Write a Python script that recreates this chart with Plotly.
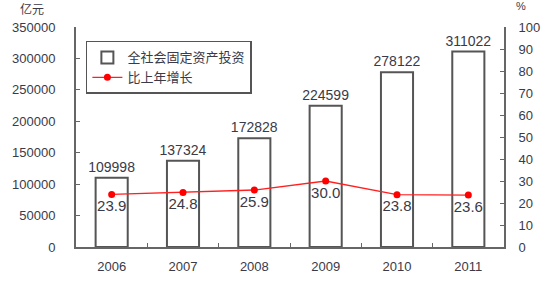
import plotly.graph_objects as go

years = ["2006", "2007", "2008", "2009", "2010", "2011"]
investment = [109998, 137324, 172828, 224599, 278122, 311022]
growth = [23.9, 24.8, 25.9, 30.0, 23.8, 23.6]
growth_labels = ["23.9", "24.8", "25.9", "30.0", "23.8", "23.6"]

txt = "#3a3a48"
font = "Liberation Sans, Arial, Noto Sans CJK SC, sans-serif"

L, R, T, B = 71, 49, 27, 38
W, H = 553, 286
pw = W - L - R
ph = H - T - B

fig = go.Figure()
fig.add_trace(go.Bar(
    x=years, y=investment, name="全社会固定资产投资",
    marker=dict(color="white", line=dict(color="#555555", width=2)),
    width=0.45,
    text=[str(v) for v in investment], textposition="outside",
    constraintext="none",
    textfont=dict(size=14, color=txt), cliponaxis=False,
))
fig.add_trace(go.Scatter(
    x=years, y=growth, name="比上年增长", yaxis="y2",
    mode="lines+markers+text",
    line=dict(color="#ff2020", width=1.3),
    marker=dict(color="#ff0000", size=7),
    text=growth_labels, textposition="bottom center",
    textfont=dict(size=15, color=txt), cliponaxis=False,
))

fig.update_layout(
    width=W, height=H,
    margin=dict(l=L, r=R, t=T, b=B),
    paper_bgcolor="white", plot_bgcolor="white",
    font=dict(family=font, color=txt, size=13),
    showlegend=True,
    legend=dict(
        x=(81 - L) / pw, y=(H - B - 41) / ph, xanchor="left", yanchor="top",
        bordercolor="#555555", borderwidth=1.5, bgcolor="white",
        font=dict(size=13, color=txt, family="Noto Sans CJK SC, sans-serif"),
        tracegroupgap=0, itemsizing="trace",
    ),
    xaxis=dict(
        type="category", showline=True, linecolor="#666666", linewidth=2,
        ticks="inside", tickson="boundaries", ticklen=4, tickcolor="#666666",
        tickfont=dict(size=13, color=txt), showgrid=False, ticklabelstandoff=6,
    ),
    yaxis=dict(
        range=[0, 350000], dtick=50000, showline=True, linecolor="#666666", linewidth=2,
        ticks="inside", ticklen=4, tickcolor="#666666", showgrid=False, zeroline=False,
        tickfont=dict(size=13, color=txt), tickformat="d", ticklabelstandoff=16,
    ),
    yaxis2=dict(
        range=[0, 100], dtick=10, overlaying="y", side="right",
        showline=True, linecolor="#666666", linewidth=2,
        ticks="inside", ticklen=4, tickcolor="#666666", showgrid=False, zeroline=False,
        tickfont=dict(size=13, color=txt), ticklabelstandoff=10,
    ),
    annotations=[
        dict(text="亿元", x=(26 - L) / pw, y=(H - B - 8) / ph, xref="paper", yref="paper",
             xanchor="center", yanchor="middle", showarrow=False,
             font=dict(size=12, color=txt, family="Noto Sans CJK SC, sans-serif")),
        dict(text="%", x=(521 - L) / pw, y=(H - B - 6) / ph, xref="paper", yref="paper",
             xanchor="center", yanchor="middle", showarrow=False,
             font=dict(size=11, color=txt)),
    ],
)

fig.write_html("out.html")
